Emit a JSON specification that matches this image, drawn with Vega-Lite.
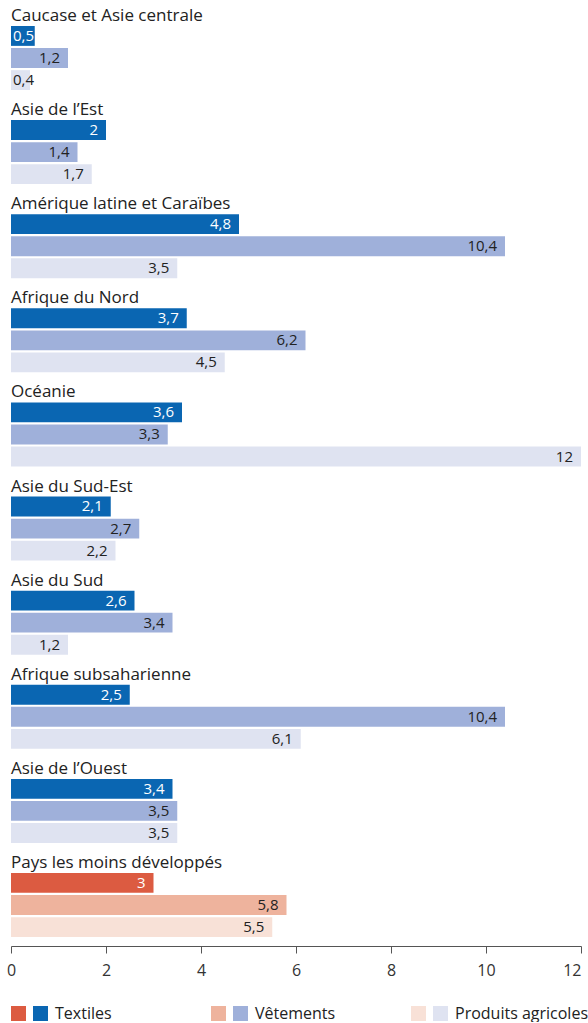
{
  "$schema": "https://vega.github.io/schema/vega-lite/v6.json",
  "padding": {"left": 6, "top": 0, "right": 0, "bottom": 0},
  "config": {"view": {"stroke": null}, "font": "Open Sans", "concat": {"spacing": 27}},
  "datasets": {
    "regions": [
      {"region": "Caucase et Asie centrale", "cat": "Textiles", "value": 0.5, "lab": "0,5"},
      {"region": "Caucase et Asie centrale", "cat": "Vêtements", "value": 1.2, "lab": "1,2"},
      {"region": "Caucase et Asie centrale", "cat": "Produits agricoles", "value": 0.4, "lab": "0,4"},
      {"region": "Asie de l’Est", "cat": "Textiles", "value": 2, "lab": "2"},
      {"region": "Asie de l’Est", "cat": "Vêtements", "value": 1.4, "lab": "1,4"},
      {"region": "Asie de l’Est", "cat": "Produits agricoles", "value": 1.7, "lab": "1,7"},
      {"region": "Amérique latine et Caraïbes", "cat": "Textiles", "value": 4.8, "lab": "4,8"},
      {"region": "Amérique latine et Caraïbes", "cat": "Vêtements", "value": 10.4, "lab": "10,4"},
      {"region": "Amérique latine et Caraïbes", "cat": "Produits agricoles", "value": 3.5, "lab": "3,5"},
      {"region": "Afrique du Nord", "cat": "Textiles", "value": 3.7, "lab": "3,7"},
      {"region": "Afrique du Nord", "cat": "Vêtements", "value": 6.2, "lab": "6,2"},
      {"region": "Afrique du Nord", "cat": "Produits agricoles", "value": 4.5, "lab": "4,5"},
      {"region": "Océanie", "cat": "Textiles", "value": 3.6, "lab": "3,6"},
      {"region": "Océanie", "cat": "Vêtements", "value": 3.3, "lab": "3,3"},
      {"region": "Océanie", "cat": "Produits agricoles", "value": 12, "lab": "12"},
      {"region": "Asie du Sud-Est", "cat": "Textiles", "value": 2.1, "lab": "2,1"},
      {"region": "Asie du Sud-Est", "cat": "Vêtements", "value": 2.7, "lab": "2,7"},
      {"region": "Asie du Sud-Est", "cat": "Produits agricoles", "value": 2.2, "lab": "2,2"},
      {"region": "Asie du Sud", "cat": "Textiles", "value": 2.6, "lab": "2,6"},
      {"region": "Asie du Sud", "cat": "Vêtements", "value": 3.4, "lab": "3,4"},
      {"region": "Asie du Sud", "cat": "Produits agricoles", "value": 1.2, "lab": "1,2"},
      {"region": "Afrique subsaharienne", "cat": "Textiles", "value": 2.5, "lab": "2,5"},
      {"region": "Afrique subsaharienne", "cat": "Vêtements", "value": 10.4, "lab": "10,4"},
      {"region": "Afrique subsaharienne", "cat": "Produits agricoles", "value": 6.1, "lab": "6,1"},
      {"region": "Asie de l’Ouest", "cat": "Textiles", "value": 3.4, "lab": "3,4"},
      {"region": "Asie de l’Ouest", "cat": "Vêtements", "value": 3.5, "lab": "3,5"},
      {"region": "Asie de l’Ouest", "cat": "Produits agricoles", "value": 3.5, "lab": "3,5"},
      {"region": "Pays les moins développés", "cat": "Textiles", "value": 3, "lab": "3"},
      {"region": "Pays les moins développés", "cat": "Vêtements", "value": 5.8, "lab": "5,8"},
      {"region": "Pays les moins développés", "cat": "Produits agricoles", "value": 5.5, "lab": "5,5"}
    ],
    "legend": [
      {"item": "Textiles"},
      {"item": "Vêtements"},
      {"item": "Produits agricoles"}
    ]
  },
  "vconcat": [
    {
      "width": 570,
      "height": 946,
      "data": {"name": "regions"},
      "layer": [
        {
          "transform": [{"filter": "datum.region !== 'Pays les moins développés'"}],
          "mark": {"type": "bar"},
          "encoding": {
            "y": {"field": "region", "type": "nominal", "axis": null,
                  "sort": ["Caucase et Asie centrale", "Asie de l’Est", "Amérique latine et Caraïbes", "Afrique du Nord", "Océanie", "Asie du Sud-Est", "Asie du Sud", "Afrique subsaharienne", "Asie de l’Ouest", "Pays les moins développés"],
                  "scale": {"paddingInner": 0.32, "paddingOuter": 0.186, "align": 0.743}},
            "yOffset": {"field": "cat", "type": "nominal", "sort": ["Textiles", "Vêtements", "Produits agricoles"], "scale": {"paddingInner": 0.1, "paddingOuter": 0}},
            "x": {"field": "value", "type": "quantitative",
                  "scale": {"domain": [0, 12], "nice": false},
                  "axis": {"values": [0, 2, 4, 6, 8, 10, 12], "grid": false, "domainColor": "#555", "tickColor": "#555", "tickSize": 7, "labelFontSize": 16, "labelColor": "#333", "labelPadding": 9, "title": null, "labelFont": "Open Sans", "labelFlush": false,
                           "labelAlign": {"condition": {"test": "datum.value === 12", "value": "right"}, "value": "center"}}},
            "color": {"field": "cat", "type": "nominal", "legend": null,
                      "scale": {"domain": ["Textiles", "Vêtements", "Produits agricoles"], "range": ["#0a66b2", "#9fb0da", "#dfe3f1"]}}
          }
        },
        {
          "transform": [{"filter": "datum.region === 'Pays les moins développés'"}],
          "mark": {"type": "bar"},
          "encoding": {
            "y": {"field": "region", "type": "nominal", "axis": null,
                  "sort": ["Caucase et Asie centrale", "Asie de l’Est", "Amérique latine et Caraïbes", "Afrique du Nord", "Océanie", "Asie du Sud-Est", "Asie du Sud", "Afrique subsaharienne", "Asie de l’Ouest", "Pays les moins développés"],
                  "scale": {"paddingInner": 0.32, "paddingOuter": 0.186, "align": 0.743}},
            "yOffset": {"field": "cat", "type": "nominal", "sort": ["Textiles", "Vêtements", "Produits agricoles"], "scale": {"paddingInner": 0.1, "paddingOuter": 0}},
            "x": {"field": "value", "type": "quantitative"},
            "color": {"field": "cat", "type": "nominal", "legend": null,
                      "scale": {"domain": ["Textiles", "Vêtements", "Produits agricoles"], "range": ["#dc5b41", "#eeb39d", "#f8e1d7"]}}
          }
        },
        {
          "transform": [{"filter": "datum.value >= 1"}],
          "mark": {"type": "text", "align": "right", "baseline": "middle", "dx": -8, "fontSize": 15},
          "encoding": {
            "y": {"field": "region", "type": "nominal", "axis": null,
                  "sort": ["Caucase et Asie centrale", "Asie de l’Est", "Amérique latine et Caraïbes", "Afrique du Nord", "Océanie", "Asie du Sud-Est", "Asie du Sud", "Afrique subsaharienne", "Asie de l’Ouest", "Pays les moins développés"]},
            "yOffset": {"field": "cat", "type": "nominal", "sort": ["Textiles", "Vêtements", "Produits agricoles"]},
            "x": {"field": "value", "type": "quantitative"},
            "text": {"field": "lab"},
            "color": {"condition": {"test": "datum.cat === 'Textiles'", "value": "#ffffff"}, "value": "#222222"}
          }
        },
        {
          "transform": [{"filter": "datum.value < 1"}],
          "mark": {"type": "text", "align": "left", "baseline": "middle", "dx": 2, "fontSize": 15},
          "encoding": {
            "y": {"field": "region", "type": "nominal", "axis": null,
                  "sort": ["Caucase et Asie centrale", "Asie de l’Est", "Amérique latine et Caraïbes", "Afrique du Nord", "Océanie", "Asie du Sud-Est", "Asie du Sud", "Afrique subsaharienne", "Asie de l’Ouest", "Pays les moins développés"]},
            "yOffset": {"field": "cat", "type": "nominal", "sort": ["Textiles", "Vêtements", "Produits agricoles"]},
            "x": {"datum": 0, "type": "quantitative"},
            "text": {"field": "lab"},
            "color": {"condition": {"test": "datum.cat === 'Textiles'", "value": "#ffffff"}, "value": "#222222"}
          }
        },
        {
          "transform": [{"filter": "datum.cat === 'Textiles'"}],
          "mark": {"type": "text", "align": "left", "baseline": "alphabetic", "dy": -5, "fontSize": 17, "color": "#222222"},
          "encoding": {
            "y": {"field": "region", "type": "nominal", "axis": null, "bandPosition": 0,
                  "sort": ["Caucase et Asie centrale", "Asie de l’Est", "Amérique latine et Caraïbes", "Afrique du Nord", "Océanie", "Asie du Sud-Est", "Asie du Sud", "Afrique subsaharienne", "Asie de l’Ouest", "Pays les moins développés"]},
            "x": {"datum": 0, "type": "quantitative"},
            "text": {"field": "region"}
          }
        }
      ],
      "resolve": {"scale": {"color": "independent"}}
    },
    {
      "width": 400,
      "height": 15,
      "data": {"name": "legend"},
      "encoding": {
        "x": {"field": "item", "type": "nominal", "sort": ["Textiles", "Vêtements", "Produits agricoles"], "scale": {"type": "point", "padding": 0}, "axis": null}
      },
      "layer": [
        {
          "mark": {"type": "square", "size": 225, "opacity": 1, "filled": true, "xOffset": 7.5},
          "encoding": {"color": {"field": "item", "type": "nominal", "legend": null,
            "scale": {"domain": ["Textiles", "Vêtements", "Produits agricoles"], "range": ["#dc5b41", "#eeb39d", "#f8e1d7"]}}}
        },
        {
          "mark": {"type": "square", "size": 225, "opacity": 1, "filled": true, "xOffset": 29.5},
          "encoding": {"fill": {"field": "item", "type": "nominal", "legend": null,
            "scale": {"domain": ["Textiles", "Vêtements", "Produits agricoles"], "range": ["#0a66b2", "#9fb0da", "#dfe3f1"]}}}
        },
        {
          "mark": {"type": "text", "align": "left", "baseline": "middle", "fontSize": 16, "color": "#222222", "dx": 44},
          "encoding": {"text": {"field": "item"}}
        }
      ]
    }
  ]
}
